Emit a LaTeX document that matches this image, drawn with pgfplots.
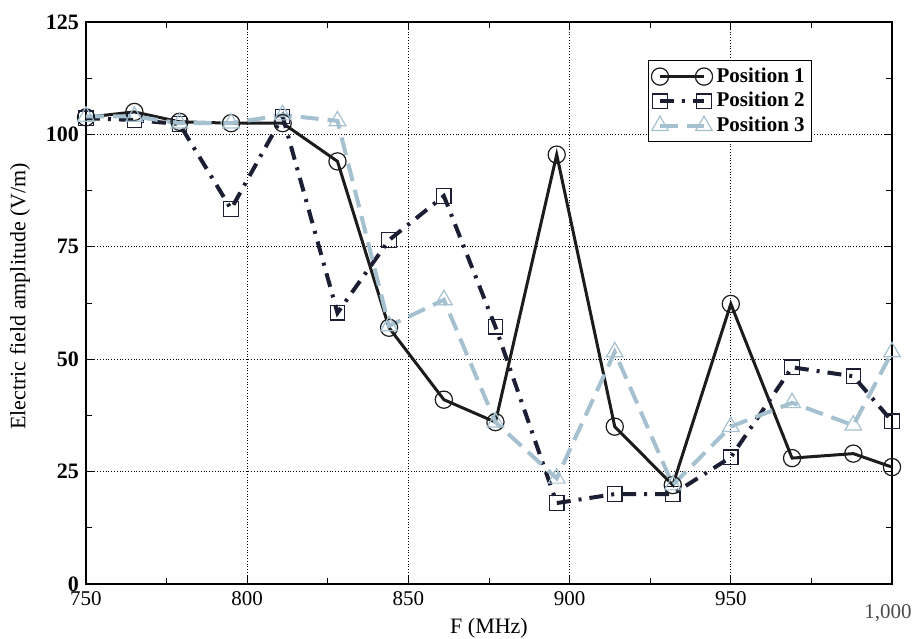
\documentclass[border=0pt]{standalone}
\usepackage{fontspec}
\setmainfont{Liberation Serif}
\usepackage{pgfplots}
\pgfplotsset{compat=1.18}
\definecolor{pone}{RGB}{28,28,28}
\definecolor{ptwo}{RGB}{28,30,52}
\definecolor{pthree}{RGB}{165,192,206}
\newcommand{\thousandlabel}{1,000}
\begin{document}
\begin{tikzpicture}
\path[use as bounding box] (-43pt,-27pt) rectangle (414pt,292pt);
\begin{axis}[
  at={(0pt,0pt)}, anchor=south west,
  scale only axis, width=403pt, height=281pt,
  xmin=750, xmax=1000, ymin=0, ymax=125,
  xtick={750,800,850,900,950},
  ytick={0,25,50,75,100,125},
  minor xtick={775,825,875,925,975},
  minor ytick={12.5,37.5,62.5,87.5,112.5},
  extra x ticks={1000},
  extra x tick labels={\thousandlabel},
  extra x tick style={grid=none, major tick length=0pt,
    tick label style={yshift=-6.5pt, xshift=-2pt, text=black!70}},
  /pgf/number format/assume math mode=true,
  xmajorgrids, ymajorgrids,
  major grid style={black, densely dotted, line width=0.5pt},
  tick align=inside, major tick length=4pt, minor tick length=3pt,
  every tick/.style={black, line width=0.5pt},
  axis line style={black, line width=0.8pt},
  xticklabel style={font=\fontsize{10.5}{12}\selectfont},
  yticklabel style={font=\bfseries\fontsize{11}{12}\selectfont},
  xlabel={F (MHz)},
  ylabel={Electric field amplitude (V/m)},
  label style={font=\fontsize{11}{13}\selectfont},
  xlabel style={at={(axis description cs:0.5,-0.078)}, anchor=center},
  ylabel style={at={(axis description cs:-0.082,0.512)}, anchor=center},
  legend image code/.code={\draw[mark repeat=2,mark phase=1,#1] plot coordinates {(0pt,0pt) (11pt,0pt) (22pt,0pt)};},
  legend style={at={(axis description cs:0.697,0.932)}, anchor=north west,
    draw=black, line width=0.6pt, fill=white,
    font=\bfseries\fontsize{10.5}{12}\selectfont,
    inner sep=1.5pt, row sep=-0.5pt},
  legend cell align=left,
]
\addplot[pone, line width=1.5pt, mark=o, mark size=4.3pt, mark options={solid, line width=0.6pt}]
coordinates {
(750,103.8) (765,105) (779,102.8) (795,102.5) (811,102.5) (828,94) (844,57) (861,41)
(877,36) (896,95.5) (914,35) (932,22) (950,62.3) (969,28) (988,29) (1000,26)
};
\addlegendentry{Position 1}
\addplot[ptwo, line width=2pt, dash pattern=on 7pt off 4pt on 1.5pt off 4pt, mark=square, mark size=3.6pt, mark options={solid, line width=0.6pt}]
coordinates {
(750,103.6) (765,103.2) (779,102.3) (795,83.4) (811,104) (828,60.3) (844,76.5) (861,86.3)
(877,57.2) (896,18) (914,20) (932,20) (950,28.2) (969,48.2) (988,46.2) (1000,36.2)
};
\addlegendentry{Position 2}
\addplot[pthree, line width=2pt, dash pattern=on 9pt off 4.5pt, mark=triangle, mark size=4.8pt, mark options={solid, line width=0.6pt}]
coordinates {
(750,104) (765,104) (779,102.5) (795,102.5) (811,104.3) (828,103) (844,57.4) (861,63.2)
(877,36) (896,23.5) (914,51.6) (932,22) (950,35) (969,40.3) (988,35.3) (1000,51.6)
};
\addlegendentry{Position 3}
\end{axis}
\end{tikzpicture}
\end{document}
